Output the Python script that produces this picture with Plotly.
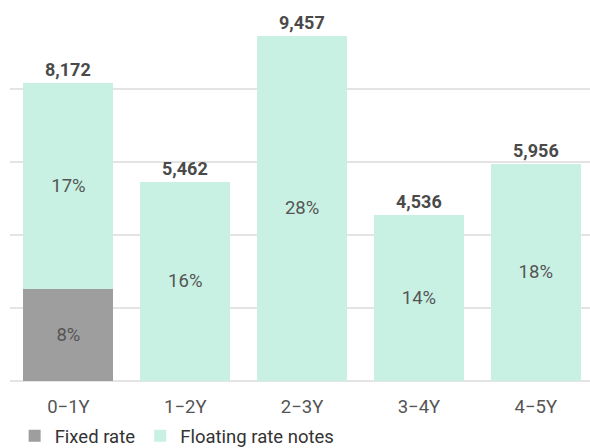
import plotly.graph_objects as go

categories = ["0\u22121Y", "1\u22122Y", "2\u22123Y", "3\u22124Y", "4\u22125Y"]
fixed_values = [2530, 0, 0, 0, 0]
floating_values = [5642, 5462, 9457, 4536, 5956]
fixed_pct = ["8%", "", "", "", ""]
floating_pct = ["17%", "16%", "28%", "14%", "18%"]
totals = [8172, 5462, 9457, 4536, 5956]

FONT = "Roboto"
TXT = "#555555"
FS = 18.5

fig = go.Figure()
fig.add_trace(go.Bar(
    x=categories, y=fixed_values, name="Fixed rate",
    marker=dict(color="#9e9e9e", line=dict(width=0)),
    text=fixed_pct, textposition="inside", insidetextanchor="middle",
    textangle=0, textfont=dict(family=FONT, size=FS, color=TXT),
    hoverinfo="skip",
))
fig.add_trace(go.Bar(
    x=categories, y=floating_values, name="Floating rate notes",
    marker=dict(color="#c9f1e3", line=dict(width=0)),
    text=floating_pct, textposition="inside", insidetextanchor="middle",
    textangle=0, textfont=dict(family=FONT, size=FS, color=TXT),
    hoverinfo="skip",
))

for c, t in zip(categories, totals):
    fig.add_annotation(
        x=c, y=t, text=f"<b>{t:,}</b>", showarrow=False,
        yanchor="bottom", yshift=1,
        font=dict(family=FONT, size=18, color="#4a4a4a"),
    )

fig.update_layout(
    width=590, height=448,
    barmode="stack", bargap=0.23,
    plot_bgcolor="white", paper_bgcolor="white",
    margin=dict(l=10, r=0, t=16, b=67, autoexpand=False),
    font=dict(family=FONT, size=FS, color=TXT),
    uniformtext=dict(minsize=FS, mode="show"),
    showlegend=True,
    legend=dict(
        orientation="h", x=0.008, xanchor="left", y=-0.151, yanchor="middle",
        font=dict(family=FONT, size=FS, color="#333333"),
        itemwidth=30, traceorder="normal",
    ),
    xaxis=dict(
        range=[-0.5, 4.464], showgrid=False, showline=False, ticks="",
        tickfont=dict(family=FONT, size=FS, color=TXT),
        ticklabelstandoff=12,
    ),
    yaxis=dict(
        range=[0, 10000], dtick=2000, showticklabels=False,
        showgrid=True, gridcolor="#e4e4e4", gridwidth=1.5,
        zeroline=True, zerolinecolor="#e4e4e4", zerolinewidth=1.5,
        showline=False,
    ),
)

fig.write_html("out.html")
